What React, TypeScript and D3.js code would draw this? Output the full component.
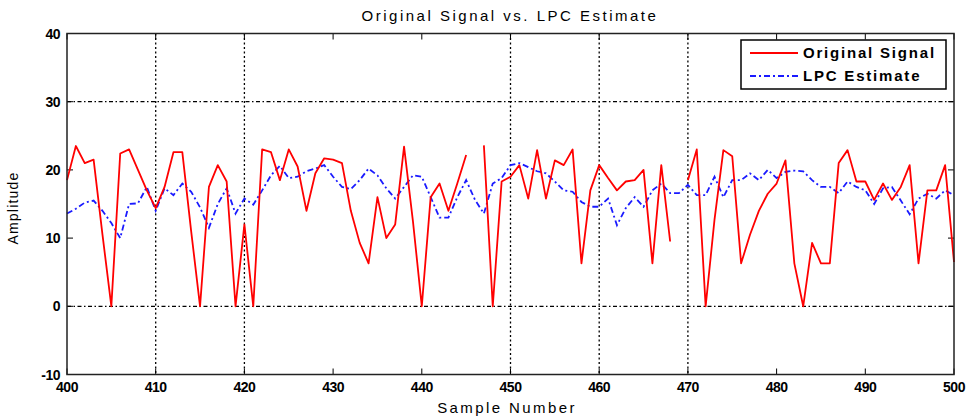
import React from "react";
import * as d3 from "d3";

const startSample = 400;
const originalSignal: (number | null)[] = [
  18.5, 23.5, 21, 21.5, 10.5, 0, 22.4, 23, 20, 17,
  14.4, 17.5, 22.6, 22.6, 11, 0, 17.5, 20.7, 18.3, 0,
  12, 0, 23, 22.6, 18.5, 23, 20.5, 14, 19.5, 21.7,
  21.5, 21, 14, 9.3, 6.3, 16, 10, 12, 23.4, 12.5,
  0, 16, 18, 14, 18, 22.2, null, 23.6, 0, 18.3,
  19, 20.7, 15.8, 22.9, 15.8, 21.4, 20.7, 23, 6.3, 17,
  20.7, 18.8, 17, 18.3, 18.5, 20, 6.3, 20.7, 9.5, null,
  18.5, 23, 0, 12.7, 22.9, 22, 6.3, 10.5, 14, 16.5,
  18, 21.4, 6.3, 0, 9.3, 6.3, 6.3, 21, 22.9, 18.3,
  18.3, 15.6, 18, 15.6, 17.5, 20.7, 6.3, 17, 17, 20.7,
  6.5,
];
const lpcEstimate: number[] = [
  13.6, 14.3, 15.2, 15.5, 14, 12.2, 10, 15, 15.1, 17.5,
  14, 17.3, 16.3, 18, 16.8, 14.5, 11.5, 15, 17.3, 13.6,
  15.8, 14.9, 17, 19.2, 20.6, 18.8, 19, 19.8, 20.2, 20.7,
  19, 17.5, 17.2, 18.5, 20.2, 19.2, 17.3, 15.8, 17.5, 19.2,
  19, 16, 13, 13, 16, 18.5, 15.6, 13.6, 18, 18.8,
  20.7, 21, 20.4, 19.8, 19.5, 18.3, 17, 16.8, 15.3, 14.6,
  14.6, 15.8, 11.9, 14.4, 16, 14.6, 17, 18, 16.6, 16.6,
  17.8, 16.3, 16.3, 19, 16, 18.5, 18.5, 19.5, 18.5, 20,
  18.8, 19.7, 19.9, 19.8, 18.5, 17.5, 17.5, 16.6, 18.3, 17.5,
  17, 15, 17.3, 17.5, 15.5, 13.5, 15.8, 16.5, 15.8, 17,
  16.3,
];
const xTicks = [400, 410, 420, 430, 440, 450, 460, 470, 480, 490, 500];
const yTicks = [-10, 0, 10, 20, 30, 40];
const visibleGridX = [410, 420, 450, 460, 470];
const visibleGridY = [0, 30];
const titleText = "Original Signal vs. LPC Estimate";
const xLabel = "Sample Number";
const yLabel = "Amplitude";
const legendLabels = ["Original Signal", "LPC Estimate"];

const W = 971;
const H = 419;
const L = 67, R = 954, T = 33.5, B = 374.5;

export default function App() {
  const x = d3.scaleLinear().domain([400, 500]).range([L, R]);
  const y = d3.scaleLinear().domain([-10, 40]).range([B, T]);
  const redData = originalSignal.map((v, i) => ({ s: startSample + i, v }));
  const blueData = lpcEstimate.map((v, i) => ({ s: startSample + i, v }));
  const redLine = d3
    .line<{ s: number; v: number | null }>()
    .defined((d) => d.v !== null)
    .x((d) => x(d.s))
    .y((d) => y(d.v as number));
  const blueLine = d3
    .line<{ s: number; v: number }>()
    .x((d) => x(d.s))
    .y((d) => y(d.v));
  const font = "Liberation Sans, Arial, sans-serif";
  return (
    <svg
      width={W}
      height={H}
      style={{ position: "absolute", left: 0, top: 0, background: "#fff" }}
      fontFamily={font}
    >
      <rect x={0} y={0} width={W} height={H} fill="#fff" />
      <rect x={L} y={T} width={R - L} height={B - T} fill="#fff" />
      {visibleGridX.map((g) => (
        <line key={"gx" + g} x1={x(g)} x2={x(g)} y1={T} y2={B} stroke="#000" strokeWidth={1.3} strokeDasharray="2,2.5" />
      ))}
      {visibleGridY.map((g) => (
        <line key={"gy" + g} x1={L} x2={R} y1={y(g)} y2={y(g)} stroke="#000" strokeWidth={1.3} strokeDasharray="4,2.5,1.5,2.5" />
      ))}
      {xTicks.map((t) => (
        <g key={"xt" + t}>
          <line x1={x(t)} x2={x(t)} y1={B} y2={B - 6} stroke="#000" strokeWidth={1} />
          <line x1={x(t)} x2={x(t)} y1={T} y2={T + 6} stroke="#000" strokeWidth={1} />
          <text x={x(t)} y={392} textAnchor="middle" fontSize={14} fontWeight="bold" letterSpacing={-0.5} fill="#000">
            {t}
          </text>
        </g>
      ))}
      {yTicks.map((t) => (
        <g key={"yt" + t}>
          <line x1={L} x2={L + 6} y1={y(t)} y2={y(t)} stroke="#000" strokeWidth={1} />
          <line x1={R} x2={R - 6} y1={y(t)} y2={y(t)} stroke="#000" strokeWidth={1} />
          <text x={60} y={y(t) + 5} textAnchor="end" fontSize={14} fontWeight="bold" letterSpacing={-0.5} fill="#000">
            {t}
          </text>
        </g>
      ))}
      <path d={blueLine(blueData) || ""} fill="none" stroke="#1a1aff" strokeWidth={1.8} strokeDasharray="6,3,2,3" />
      <path d={redLine(redData) || ""} fill="none" stroke="#ff0000" strokeWidth={1.8} strokeLinejoin="round" />
      <rect x={L} y={T} width={R - L} height={B - T} fill="none" stroke="#222" strokeWidth={1.5} />
      <g>
        <rect x={741} y={40} width={205} height={49} fill="#fff" stroke="#000" strokeWidth={1.5} />
        <line x1={750} x2={798} y1={53} y2={53} stroke="#ff0000" strokeWidth={1.8} />
        <text x={803} y={58} fontSize={15} fontWeight="bold" letterSpacing={1.8} fill="#000">{legendLabels[0]}</text>
        <line x1={750} x2={798} y1={76} y2={76} stroke="#1a1aff" strokeWidth={1.8} strokeDasharray="6,3,2,3" />
        <text x={803} y={81} fontSize={15} fontWeight="bold" letterSpacing={1.8} fill="#000">{legendLabels[1]}</text>
      </g>
      <text x={510} y={21} textAnchor="middle" fontSize={15} letterSpacing={2.5} fill="#000">{titleText}</text>
      <text x={507} y={413} textAnchor="middle" fontSize={15} letterSpacing={2.4} fill="#000">{xLabel}</text>
      <text x={18} y={208} textAnchor="middle" fontSize={14} letterSpacing={1.2} fill="#000" transform="rotate(-90 18 208)">{yLabel}</text>
    </svg>
  );
}
